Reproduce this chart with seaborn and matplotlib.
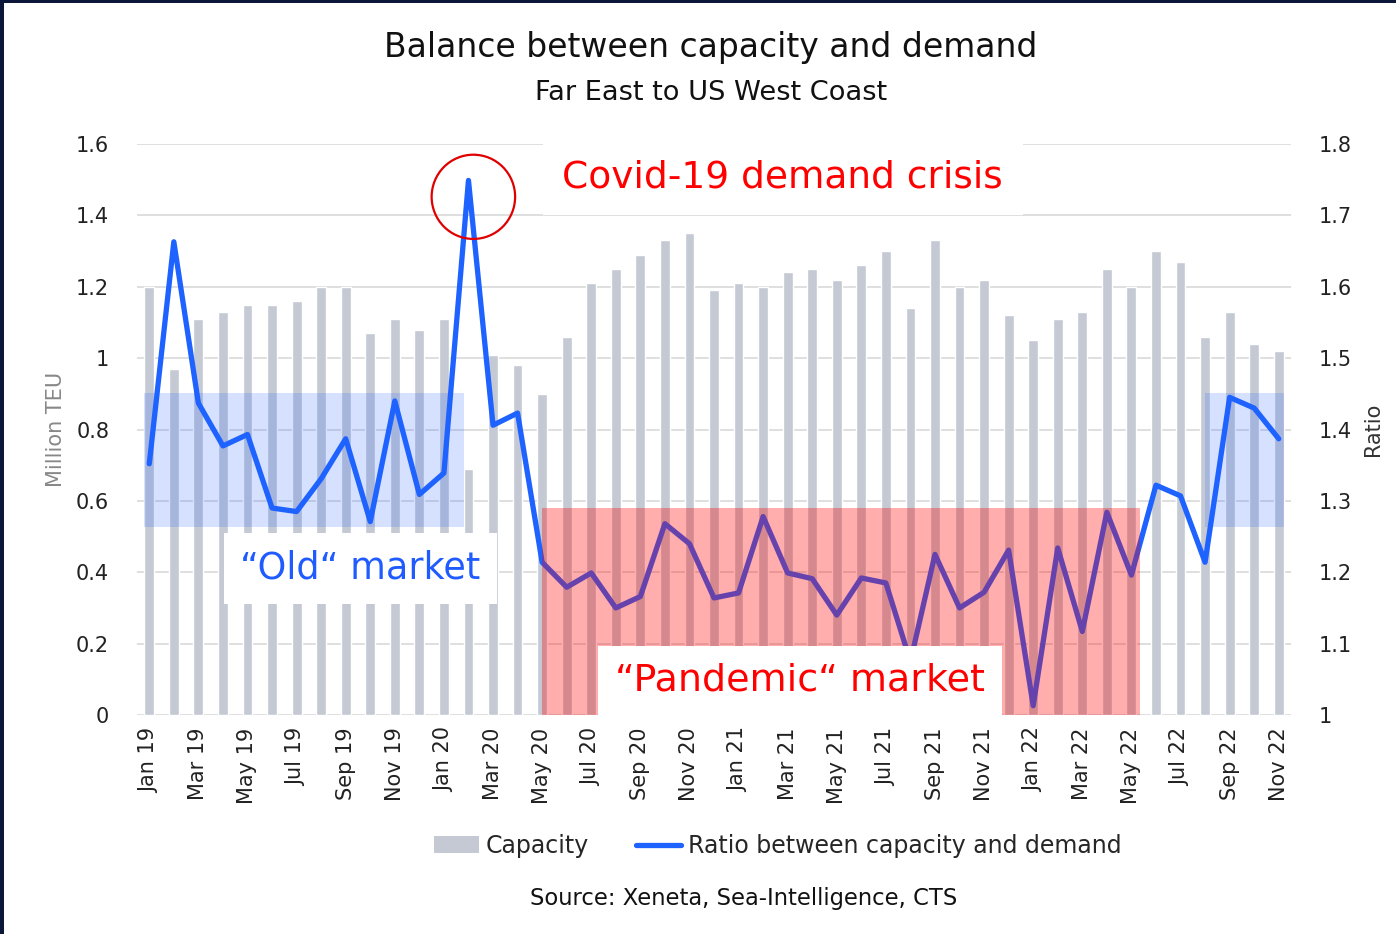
import numpy as np
import pandas as pd
import matplotlib
matplotlib.use("Agg")
import matplotlib.pyplot as plt
import seaborn as sns
from matplotlib.patches import Rectangle, Ellipse, Patch
from matplotlib.lines import Line2D

# monthly data, Jan 2019 - Nov 2022
months = [f"{m} {y}" for y in ["19", "20", "21", "22"]
          for m in ["Jan", "Feb", "Mar", "Apr", "May", "Jun",
                    "Jul", "Aug", "Sep", "Oct", "Nov", "Dec"]][:47]

capacity = [
    1.20, 0.97, 1.11, 1.13, 1.15, 1.15, 1.16, 1.20, 1.20, 1.07, 1.11, 1.08,
    1.11, 0.69, 1.01, 0.98, 0.90, 1.06, 1.21, 1.25, 1.29, 1.33, 1.35, 1.19,
    1.21, 1.20, 1.24, 1.25, 1.22, 1.26, 1.30, 1.14, 1.33, 1.20, 1.22, 1.12,
    1.05, 1.11, 1.13, 1.25, 1.20, 1.30, 1.27, 1.06, 1.13, 1.04, 1.02,
]

ratio = [
    1.352, 1.663, 1.437, 1.377, 1.393, 1.290, 1.285, 1.331, 1.387, 1.271, 1.440, 1.309,
    1.339, 1.749, 1.406, 1.423, 1.214, 1.179, 1.199, 1.150, 1.166, 1.268, 1.240, 1.164,
    1.171, 1.278, 1.199, 1.191, 1.140, 1.192, 1.185, 1.075, 1.225, 1.150, 1.172, 1.231,
    1.013, 1.234, 1.117, 1.284, 1.196, 1.322, 1.307, 1.214, 1.445, 1.430, 1.387,
]

left_ticks = [0, 0.2, 0.4, 0.6, 0.8, 1, 1.2, 1.4, 1.6]
right_ticks = [1, 1.1, 1.2, 1.3, 1.4, 1.5, 1.6, 1.7, 1.8]

BAR = "#C4C9D3"
BLUE = "#1E62FF"
RED = "#FF0000"
FONT = ["DejaVu Sans"]

sns.set_theme(style="white")
plt.rcParams["font.family"] = FONT

pos = np.arange(len(months))
df = pd.DataFrame({"pos": pos, "month": months, "capacity": capacity, "ratio": ratio})

fig = plt.figure(figsize=(13.96, 9.34), dpi=100)
ax = fig.add_axes([137 / 1396, 1 - 715 / 934, 1154 / 1396, 571 / 934])
ax2 = ax.twinx()

sns.barplot(data=df, x="pos", y="capacity", native_scale=True, width=0.4,
            color=BAR, saturation=1, ax=ax, zorder=2)
sns.lineplot(data=df, x="pos", y="ratio", color=BLUE, lw=3.8, ax=ax2, zorder=3)

ax.set_xlim(-0.5, len(months) - 0.5)
ax.set_ylim(0, 1.6)
ax2.set_ylim(1, 1.8)

ax.set_yticks(left_ticks)
ax.set_yticklabels([f"{t:g}" for t in left_ticks])
ax2.set_yticks(right_ticks)
ax2.set_yticklabels([f"{t:g}" for t in right_ticks])
ax.set_xticks(pos[::2])
ax.set_xticklabels(months[::2], rotation=90, va="top", ha="center")

ax.grid(axis="y", color="#D9D9D9", lw=1.2, zorder=0)
ax.set_axisbelow(True)
for a in (ax, ax2):
    for s in a.spines.values():
        s.set_visible(False)
    a.tick_params(length=0, labelsize=15, colors="#222222", pad=20)
ax.tick_params(axis="x", pad=9)

ax.set_xlabel("")
ax.set_ylabel("Million TEU", fontsize=15, color="#888888", labelpad=7)
ax2.set_ylabel("Ratio", fontsize=15, color="#333333", labelpad=8)

# shaded regimes
ax.add_patch(Rectangle((-0.2, 0.527), 13.0, 0.376, facecolor="#2563FF",
                       alpha=0.19, edgecolor="none", zorder=3))
ax.add_patch(Rectangle((43.0, 0.527), 3.2, 0.376, facecolor="#2563FF",
                       alpha=0.19, edgecolor="none", zorder=3))
ax2.add_patch(Rectangle((16.0, 0.99), 24.35, 0.30, facecolor=RED,
                        alpha=0.32, edgecolor="none", zorder=4))

# annotations
box = dict(facecolor="white", edgecolor="none", pad=12)
ax2.text(8.6, 1.2055, "\u201cOld\u201c market", color="#1F5BFF", fontsize=26.3,
         ha="center", va="center", bbox=box, zorder=6)
ax2.text(26.5, 1.048, "\u201cPandemic\u201c market", color=RED, fontsize=27.4,
         ha="center", va="center", bbox=box, zorder=6)
ax2.text(25.8, 1.753, "Covid-19 demand crisis", color=RED, fontsize=27,
         ha="center", va="center", bbox=dict(facecolor="white", edgecolor="none", pad=14), zorder=6)
ax2.add_patch(Ellipse((13.2, 1.726), 3.4, 0.118, facecolor="none",
                      edgecolor="#E00000", lw=1.6, zorder=7))

fig.text(711 / 1396, 1 - 48 / 934, "Balance between capacity and demand",
         ha="center", va="center", fontsize=23.8, color="#111111")
fig.text(711 / 1396, 1 - 93 / 934, "Far East to US West Coast",
         ha="center", va="center", fontsize=19.6, color="#111111")

handles = [Patch(facecolor=BAR, edgecolor="none"),
           Line2D([0], [0], color=BLUE, lw=3.8)]
fig.legend(handles, ["Capacity", "Ratio between capacity and demand"],
           loc="center", bbox_to_anchor=(778 / 1396, 1 - 846 / 934), ncol=2,
           frameon=False, fontsize=17, handlelength=1.9, handletextpad=0.3,
           columnspacing=2.0)
fig.text(744 / 1396, 1 - 898 / 934, "Source: Xeneta, Sea-Intelligence, CTS",
         ha="center", va="center", fontsize=16.3, color="#111111")

# navy frame edges
fig.patches.append(Rectangle((0, 1 - 3 / 934), 1, 3 / 934, transform=fig.transFigure,
                             facecolor="#0B1638", edgecolor="none"))
fig.patches.append(Rectangle((0, 0), 4 / 1396, 1, transform=fig.transFigure,
                             facecolor="#0B1638", edgecolor="none"))

fig.savefig("out.png", dpi=100, facecolor="white")
